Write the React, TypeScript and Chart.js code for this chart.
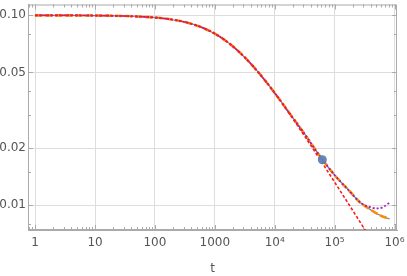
import { useEffect, useRef } from "react";
import { Chart, registerables } from "chart.js";
Chart.register(...registerables);

const xTicks = [1, 10, 100, 1000, 1e4, 1e5, 1e6];
const xTickLabels = ["1", "10", "100", "1000", "10⁴", "10⁵", "10⁶"];
const yTicks = [0.01, 0.02, 0.05, 0.1];
const yTickLabels = ["0.01", "0.02", "0.05", "0.10"];
const yMinorTicks = [0.008, 0.015, 0.03, 0.04, 0.08];

const tRed = [1, 3.16, 10, 31.6, 100, 178, 316, 562, 1000, 1780, 3160, 5620, 1e4, 1.78e4, 3.16e4, 5.62e4, 1e5, 1.78e5, 3.16e5, 4e5];
const yRed = [0.09997, 0.09991, 0.09972, 0.09913, 0.09731, 0.09535, 0.09216, 0.08718, 0.08002, 0.07071, 0.06003, 0.04905, 0.03887, 0.03015, 0.02309, 0.01752, 0.01322, 0.00995, 0.00748, 0.00666];

const tOrange = [1, 3.16, 10, 31.6, 100, 178, 316, 562, 1000, 1780, 3160, 5620, 1e4, 1.78e4, 3.16e4, 5.62e4, 1e5, 1.78e5, 2.61e5, 3.83e5, 5.62e5, 8.25e5];
const yOrange = [0.09997, 0.09991, 0.09972, 0.09913, 0.09731, 0.09535, 0.09216, 0.08718, 0.08002, 0.07071, 0.06003, 0.04910, 0.0390, 0.0304, 0.0237, 0.0182, 0.0144, 0.01184, 0.0104, 0.00955, 0.00887, 0.00845];

const tPurple = [1, 3.16, 10, 31.6, 100, 178, 316, 562, 1000, 1780, 3160, 5620, 1e4, 1.78e4, 3.16e4, 5.62e4, 1e5, 1.78e5, 2.61e5, 3.16e5, 3.83e5, 4.9e5, 5.62e5, 6.8e5, 8.25e5];
const yPurple = [0.09997, 0.09991, 0.09972, 0.09913, 0.09731, 0.09535, 0.09216, 0.08718, 0.08002, 0.07071, 0.06003, 0.04910, 0.0390, 0.0304, 0.0237, 0.0182, 0.0144, 0.01184, 0.0104, 0.0100, 0.0098, 0.00962, 0.00963, 0.00987, 0.01032];

const tPoint = [62400];
const yPoint = [0.01734];

const pts = (t: number[], y: number[]) => t.map((v, i) => ({ x: v, y: y[i] }));

const framePlugin = {
  id: "frame",
  beforeDatasetsDraw(chart: any) {
    const { ctx, chartArea: a, scales } = chart;
    ctx.save();
    ctx.strokeStyle = "#aaaaaa";
    ctx.lineWidth = 1;
    ctx.strokeRect(a.left + 0.5, a.top + 0.5, a.right - a.left - 1, a.bottom - a.top - 1);
    ctx.beginPath();
    const xs = scales.x;
    for (let d = 0.1; d <= 1e6; d *= 10) {
      for (let k = 1; k <= 9; k++) {
        const v = d * k;
        if (v < xs.min || v > xs.max) continue;
        const major = xTicks.some((m) => Math.abs(m - v) / m < 1e-6);
        const len = major ? 5 : 3;
        const px = Math.round(xs.getPixelForValue(v)) + 0.5;
        ctx.moveTo(px, a.bottom);
        ctx.lineTo(px, a.bottom - len);
        ctx.moveTo(px, a.top);
        ctx.lineTo(px, a.top + len);
      }
    }
    const ys = scales.y;
    const yAll = [...yTicks.map((v) => [v, 5]), ...yMinorTicks.map((v) => [v, 3])];
    for (const [v, len] of yAll) {
      const py = Math.round(ys.getPixelForValue(v)) + 0.5;
      ctx.moveTo(a.left, py);
      ctx.lineTo(a.left + len, py);
      ctx.moveTo(a.right, py);
      ctx.lineTo(a.right - len, py);
    }
    ctx.stroke();
    ctx.restore();
  },
};

export default function App() {
  const ref = useRef<HTMLCanvasElement>(null);
  useEffect(() => {
    const font = { family: "'DejaVu Sans', sans-serif", size: 12 };
    const chart = new Chart(ref.current!, {
      type: "line",
      data: {
        datasets: [
          {
            type: "scatter",
            data: pts(tPoint, yPoint),
            pointRadius: 4.5,
            pointBackgroundColor: "rgba(94,129,181,0.95)",
            pointBorderWidth: 0,
            showLine: false,
            order: 0,
          } as any,
          {
            data: pts(tRed, yRed),
            borderColor: "#ff1a1a",
            borderWidth: 1.6,
            borderDash: [3, 2],
            pointRadius: 0,
            cubicInterpolationMode: "monotone",
            order: 1,
          },
          {
            data: pts(tPurple, yPurple),
            borderColor: "#9a20b0",
            borderWidth: 1.8,
            borderDash: [2, 2],
            pointRadius: 0,
            cubicInterpolationMode: "monotone",
            order: 2,
          },
          {
            data: pts(tOrange, yOrange),
            borderColor: "#ff8a00",
            borderWidth: 2.6,
            borderDash: [7, 3],
            pointRadius: 0,
            cubicInterpolationMode: "monotone",
            order: 3,
          },
          {
            data: pts(tOrange, yOrange),
            borderColor: "#5e81b5",
            borderWidth: 1.2,
            pointRadius: 0,
            cubicInterpolationMode: "monotone",
            order: 4,
          },
        ],
      },
      options: {
        animation: false,
        responsive: false,
        layout: { padding: { top: 3, right: 10, left: 0, bottom: 0 } },
        plugins: { legend: { display: false }, tooltip: { enabled: false } },
        scales: {
          x: {
            type: "logarithmic",
            min: 0.76,
            max: 1.1e6,
            afterBuildTicks: (s: any) => {
              s.ticks = xTicks.map((v) => ({ value: v }));
            },
            afterFit: (s: any) => {
              s.height = 46;
              s.paddingLeft = 0;
              s.paddingRight = 0;
            },
            ticks: {
              autoSkip: false,
              maxRotation: 0,
              padding: 6,
              color: "#555",
              font,
              callback: (v: any) => xTickLabels[xTicks.indexOf(Number(v))] ?? "",
            },
            grid: { color: "#dddddd", drawTicks: false },
            border: { color: "#aaaaaa" },
            title: { display: true, text: "t", color: "#555", font, padding: { top: 4, bottom: 0 } },
          },
          y: {
            type: "logarithmic",
            min: 0.0074,
            max: 0.114,
            afterBuildTicks: (s: any) => {
              s.ticks = yTicks.map((v) => ({ value: v }));
            },
            afterFit: (s: any) => {
              s.width = 28;
              s.paddingTop = 0;
              s.paddingBottom = 0;
            },
            ticks: {
              autoSkip: false,
              padding: 2,
              color: "#555",
              font,
              callback: (v: any) => yTickLabels[yTicks.indexOf(Number(v))] ?? "",
            },
            grid: { color: "#dddddd", drawTicks: false },
            border: { color: "#aaaaaa" },
          },
        },
      },
      plugins: [framePlugin],
    });
    return () => chart.destroy();
  }, []);
  return (
    <div style={{ position: "fixed", left: 0, top: 0, width: 407, height: 276, background: "#fff" }}>
      <canvas ref={ref} width={407} height={276} />
    </div>
  );
}
